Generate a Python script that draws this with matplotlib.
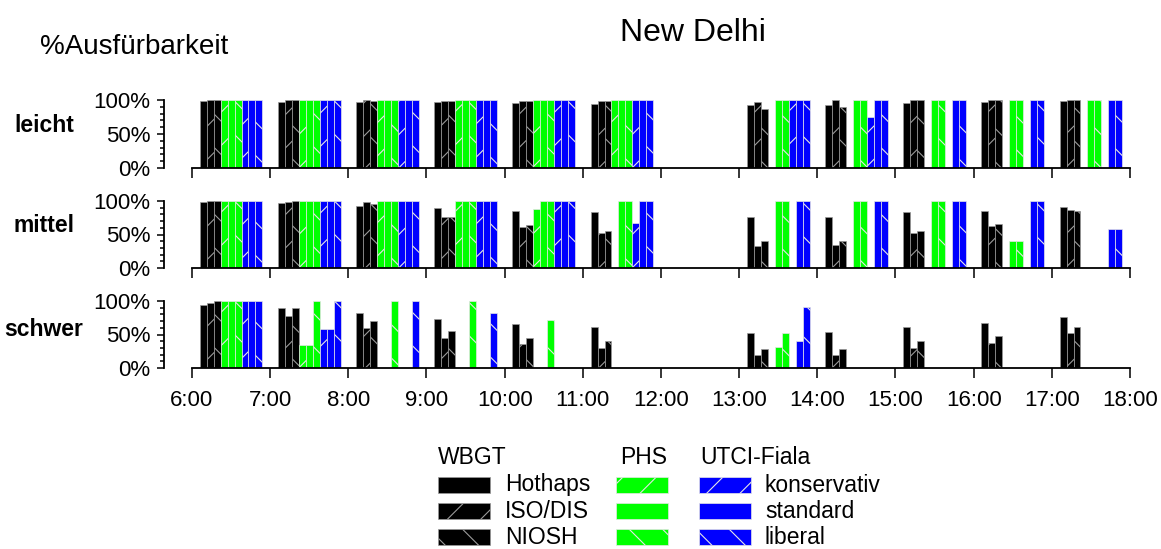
#!/usr/bin/env python3

# Ausfuehrbarkeit je Stunde und Arbeitsschwere, New Delhi

import numpy as np
import matplotlib
matplotlib.use('Agg')
import matplotlib.pyplot as plt
import matplotlib.patches as patches

plt.rcParams['font.family'] = ['Liberation Sans', 'DejaVu Sans']
plt.rcParams['hatch.linewidth'] = 0.8

W, H = 1161, 549

hours = [6, 7, 8, 9, 10, 11, 13, 14, 15, 16, 17]
xticks = list(range(6, 19))
xlabels = ['%d:00' % h for h in xticks]
panels = ['leicht', 'mittel', 'schwer']

series = ['Hothaps', 'ISO/DIS', 'NIOSH',
          'PHS konservativ', 'PHS standard', 'PHS liberal',
          'UTCI konservativ', 'UTCI standard', 'UTCI liberal']

# percent of feasible work, one list per series, values per hour
leicht = [
    [99, 97.5, 97, 96.5, 95, 94, 92.5, 92.5, 95, 97, 98.5],
    [100, 100, 100, 99, 99, 99, 97, 99.5, 100, 100, 100],
    [100, 100, 99, 99, 99, 99, 87.5, 89.5, 100, 100, 100],
    [100, 100, 100, 100, 100, 100, 0, 0, 0, 0, 0],
    [100, 100, 100, 100, 100, 100, 100, 100, 100, 100, 100],
    [100, 100, 100, 100, 100, 100, 100, 100, 100, 100, 100],
    [100, 100, 100, 100, 100, 100, 100, 74.5, 0, 0, 0],
    [100, 100, 100, 100, 100, 100, 100, 100, 100, 100, 100],
    [100, 100, 100, 100, 100, 100, 100, 100, 100, 100, 100],
]
mittel = [
    [98, 96.5, 93, 89, 85.5, 83, 76.5, 76.5, 83, 85.5, 90.5],
    [100, 99, 99, 76.5, 60.5, 51.5, 33, 34, 51.5, 63, 86.5],
    [100, 100, 95.5, 76.5, 64, 55.5, 40, 40.5, 55.5, 65, 84.5],
    [100, 100, 100, 100, 87.5, 0, 0, 0, 0, 0, 0],
    [100, 100, 100, 100, 100, 100, 100, 100, 100, 40.5, 0],
    [100, 100, 100, 100, 100, 100, 100, 100, 100, 40.5, 0],
    [100, 100, 100, 100, 100, 66.5, 0, 0, 0, 0, 0],
    [100, 100, 100, 100, 100, 100, 100, 100, 100, 100, 57.5],
    [100, 100, 100, 100, 100, 100, 100, 100, 100, 100, 57.5],
]
schwer = [
    [94, 89, 81.5, 72.5, 65.5, 61.5, 52.5, 53, 61.5, 66.5, 76.5],
    [97.5, 78, 60, 45.5, 35.5, 30.5, 19, 19.5, 30.5, 37.5, 51.5],
    [100, 89, 70, 55.5, 45.5, 40, 28.5, 29, 40, 47.5, 61.5],
    [100, 35, 0, 0, 0, 0, 0, 0, 0, 0, 0],
    [100, 35, 0, 0, 0, 0, 31.5, 0, 0, 0, 0],
    [100, 100, 100, 100, 71.5, 0, 51.5, 0, 0, 0, 0],
    [100, 57.5, 0, 0, 0, 0, 0, 0, 0, 0, 0],
    [100, 57.5, 0, 0, 0, 0, 40.5, 0, 0, 0, 0],
    [100, 100, 100, 81.5, 0, 0, 90.5, 0, 0, 0, 0],
]
data = [leicht, mittel, schwer]

# fill, hatch, hatch/edge colour per series
GREEN, BLUE, GREY, LIGHT = '#00ff00', '#0000ff', '#9a9a9a', '#e6e6e6'
styles = [
    ('black', None, GREY), ('black', '/', GREY), ('black', '\\', GREY),
    (GREEN, '/', LIGHT), (GREEN, None, LIGHT), (GREEN, '\\', LIGHT),
    (BLUE, '/', LIGHT), (BLUE, None, LIGHT), (BLUE, '\\', LIGHT),
]

offset = 0.1
bw = 0.8 / 9

fig = plt.figure(figsize=(W / 100, H / 100), dpi=100)


def px_axes(x0, y_top, x1, y_bot):
    return fig.add_axes([x0 / W, 1 - y_bot / H, (x1 - x0) / W, (y_bot - y_top) / H])


# pixel rows of the three panels (100% line, 0% line)
rows = [(100, 168), (201, 268), (301, 368)]
label_y = [125, 226, 329]

x = np.array(hours, dtype=float)
for k, name in enumerate(panels):
    ax = px_axes(192, rows[k][0], 1130, rows[k][1])
    for j, vals in enumerate(data[k]):
        vals = np.array(vals, dtype=float)
        m = vals > 0
        fc, hatch, ec = styles[j]
        ax.bar(x[m] + offset + j * bw, vals[m], width=bw, align='edge',
               color=fc, hatch=hatch, edgecolor=ec, linewidth=0.5)
    ax.set_xlim(6, 18)
    ax.set_ylim(0, 100)
    for s in ['top', 'right']:
        ax.spines[s].set_visible(False)
    ax.spines['left'].set_position(('outward', 20))
    ax.spines['left'].set_bounds(0, 100)
    ax.spines['bottom'].set_bounds(6, 18)
    for s in ['left', 'bottom']:
        ax.spines[s].set_linewidth(1.3)
    ax.set_yticks([0, 50, 100])
    ax.set_yticklabels(['0%', '50%', '100%'])
    ax.set_yticks(range(0, 101, 10), minor=True)
    ax.tick_params(axis='y', which='major', length=5, width=1.1, labelsize=16, pad=5)
    ax.tick_params(axis='y', which='minor', length=3, width=1.1)
    ax.set_xticks(xticks)
    ax.tick_params(axis='x', length=7.5, width=1.1, labelsize=16, pad=8)
    if k == len(panels) - 1:
        ax.set_xticklabels(xlabels)
    else:
        ax.set_xticklabels([])
    fig.text(44 / W, 1 - label_y[k] / H, name, ha='center', va='center',
             fontsize=16.5, fontweight='bold')

fig.text(693 / W, 1 - 33 / H, 'New Delhi', ha='center', va='center', fontsize=23)
fig.text(40 / W, 1 - 47 / H, '%Ausfürbarkeit', ha='left', va='center', fontsize=20)

# legend in pixel coordinates
lax = fig.add_axes([0, 0, 1, 1])
lax.set_xlim(0, W)
lax.set_ylim(H, 0)
lax.axis('off')

headers = [('WBGT', 438), ('PHS', 620), ('UTCI-Fiala', 700)]
for txt, hx in headers:
    lax.text(hx, 458, txt, ha='left', va='center', fontsize=16.5)

col_x = [438, 616, 699]
row_y = [485, 511, 537]
left_labels = ['Hothaps', 'ISO/DIS', 'NIOSH']
right_labels = ['konservativ', 'standard', 'liberal']
for c in range(3):
    for r in range(3):
        fc, hatch, ec = styles[c * 3 + r]
        lax.add_patch(patches.Rectangle((col_x[c], row_y[r] - 8), 52, 16,
                                        facecolor=fc, hatch=hatch, edgecolor=ec,
                                        linewidth=0.5))
for r in range(3):
    lax.text(505, row_y[r], left_labels[r], ha='left', va='center', fontsize=16.5)
    lax.text(765, row_y[r], right_labels[r], ha='left', va='center', fontsize=16.5)

fig.savefig('out.png', dpi=100)
